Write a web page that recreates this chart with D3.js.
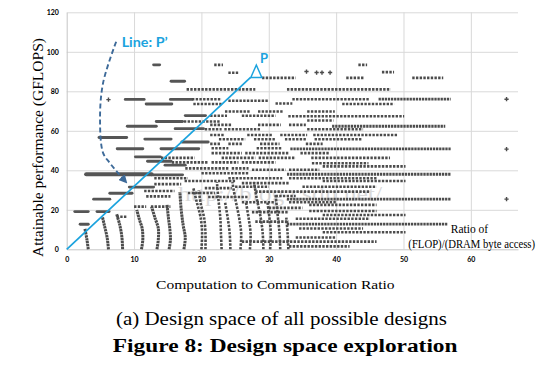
<!DOCTYPE html>
<html><head><meta charset="utf-8">
<script src="https://cdn.jsdelivr.net/npm/d3@7"></script>
<style>body{margin:0;background:#fff}svg{display:block}</style>
</head><body><svg id="c" width="547" height="368"></svg>
<script>
// ---------------- data ----------------
const xTicks = [0, 10, 20, 30, 40, 50, 60];
const yTicks = [0, 20, 40, 60, 80, 100, 120];
const xMax = 67, yMax = 120;

// solid (heavily overlapping) rows of design points: [y, xStart, xEnd]
const solidRows = [
  [93.4, 12.9, 13.8], [85.1, 15.5, 17.5], [75.9, 8.7, 11.5], [75.9, 15.4, 18.6],
  [73.6, 11.8, 15.6], [67.7, 17.6, 20.6], [64.7, 13.3, 17.2], [62.3, 9.0, 13.3],
  [61.1, 16.1, 20.3], [56.6, 4.8, 8.9], [55.8, 11.6, 15.5], [54.3, 17.1, 21.0],
  [50.9, 7.5, 11.3], [50.9, 14.0, 19.6], [46.8, 10.2, 13.9], [44.6, 12.0, 15.5],
  [42.6, 14.6, 17.6], [37.7, 12.6, 17.2], [31.5, 9.3, 12.9], [28.4, 6.4, 9.7],
  [25.4, 4.0, 6.4], [19.1, 1.2, 3.2], [19.1, 4.5, 6.3], [12.7, 2.0, 3.2]
];
// the heaviest row
const heavyRows = [[38.0, 2.9, 12.6]];
// long bandwidth-bound rows on the right
const tightRows = [
  [76.0, 46.3, 57.0], [62.3, 39.4, 56.2], [50.8, 33.2, 57.0],
  [38.0, 32.7, 57.0], [25.4, 32.7, 57.0], [12.7, 32.7, 56.5]
];
// spaced rows of points: [y, xStart, xEnd]
const dotRows = [
  [93.4, 21.9, 23.2], [93.4, 43.3, 44.6], [89.4, 24.0, 25.6], [89.7, 46.8, 48.6],
  [86.8, 29.0, 34.0], [86.8, 41.5, 44.2], [86.8, 51.3, 55.9], [81.0, 17.8, 28.0],
  [81.0, 32.7, 48.1], [76.0, 18.6, 23.0], [75.2, 24.0, 30.0], [76.0, 33.5, 45.0],
  [73.6, 18.8, 23.0], [73.8, 31.0, 33.5], [73.6, 40.9, 48.6], [69.8, 23.5, 27.2],
  [69.8, 28.4, 32.2], [69.8, 35.7, 39.8], [67.6, 21.3, 23.8], [67.6, 26.0, 31.0],
  [67.4, 32.9, 50.1], [65.2, 35.7, 39.6], [64.7, 17.4, 22.8], [63.0, 21.3, 24.5],
  [63.0, 28.4, 31.8], [63.0, 33.0, 35.5], [60.8, 20.5, 23.0], [60.8, 23.4, 28.7],
  [60.8, 35.7, 44.0], [57.9, 21.3, 23.5], [57.9, 26.8, 30.5], [57.9, 31.7, 35.7],
  [57.9, 36.6, 49.2], [55.7, 22.6, 26.5], [55.7, 27.8, 31.0], [55.7, 32.4, 35.7],
  [55.7, 36.8, 43.8], [53.4, 21.3, 22.8], [53.4, 24.0, 26.0], [53.4, 28.7, 31.6],
  [53.4, 35.5, 38.0], [51.2, 21.5, 24.0], [51.2, 28.2, 32.0], [48.7, 21.5, 26.0],
  [48.7, 26.5, 33.0], [48.7, 34.7, 39.1], [46.3, 14.0, 19.0], [46.3, 23.0, 28.0],
  [46.3, 28.5, 34.0], [46.3, 36.3, 48.0], [44.0, 15.6, 21.0], [44.0, 21.5, 25.5],
  [44.0, 26.0, 31.0], [43.6, 36.4, 44.8], [42.0, 38.0, 50.3], [41.0, 17.6, 24.0],
  [41.0, 24.5, 27.0], [40.3, 27.5, 32.5], [40.3, 33.0, 37.5], [38.5, 20.0, 27.0],
  [36.0, 13.0, 18.0], [36.0, 24.0, 32.0], [36.0, 33.0, 46.0], [34.6, 17.5, 25.0],
  [34.6, 38.0, 50.3], [33.5, 26.0, 33.0], [33.0, 13.0, 17.0], [31.7, 25.0, 30.0],
  [31.7, 35.0, 46.0], [31.0, 20.5, 24.5], [29.5, 11.5, 16.0], [29.2, 28.0, 33.0],
  [29.2, 33.0, 45.0], [28.5, 18.0, 22.0], [27.0, 31.0, 34.0], [26.8, 11.8, 15.4],
  [26.5, 21.0, 27.0], [23.8, 26.0, 31.0], [23.8, 33.0, 40.0], [22.5, 36.0, 46.0],
  [21.6, 10.0, 11.8], [21.6, 12.5, 15.4], [21.0, 30.0, 35.0], [19.4, 36.0, 46.0],
  [18.8, 27.5, 33.0], [17.4, 38.0, 50.3], [16.5, 7.4, 8.9], [15.5, 34.0, 45.0],
  [14.0, 28.0, 33.0], [10.5, 34.5, 44.0], [8.6, 38.0, 50.3], [6.0, 34.0, 40.0],
  [3.9, 26.0, 46.0], [1.5, 33.0, 42.0]
];
// near-vertical chains of points (bottom to top): [[x, y], ...]
const denseColumns = [
  [[3.2, 0], [3.0, 5], [2.7, 10.5]],
  [[6.2, 0], [6.0, 6], [5.6, 12], [5.3, 16.5]],
  [[8.3, 0], [8.2, 6], [7.9, 12], [7.4, 18]],
  [[11.1, 0], [11.3, 5], [11.2, 10.6], [10.8, 15], [10.4, 20]],
  [[13.4, 0], [13.6, 5], [13.6, 10.6], [13.1, 16], [12.6, 21.6]],
  [[15.2, 0], [15.4, 5], [15.3, 10.6], [15.1, 16], [14.9, 22.5]],
  [[17.4, 0], [17.6, 6], [17.3, 12], [17.0, 20], [16.8, 29]]
];
const columns = [
  [[20.0, 0], [20.1, 8], [19.9, 15.7], [19.3, 24], [18.8, 31]],
  [[20.6, 0], [20.6, 8], [20.4, 16], [19.9, 23], [19.6, 30]],
  [[23.0, 0], [22.9, 8], [22.8, 16], [22.5, 26], [22.3, 34]],
  [[24.3, 0], [24.2, 8], [23.9, 16], [23.5, 24]],
  [[25.8, 0], [25.9, 8], [25.6, 16], [25.0, 26], [24.6, 34]],
  [[27.2, 0], [27.3, 8], [27.0, 16], [26.6, 24]],
  [[29.2, 0], [29.1, 8], [28.8, 16], [28.2, 26], [27.8, 34]],
  [[30.2, 0], [30.3, 8], [30.1, 16], [29.8, 24]],
  [[31.7, 0], [31.6, 8], [31.3, 18], [31.0, 28]],
  [[32.9, 0], [32.8, 8], [32.6, 16]]
];
const singles = [[6.2, 75.8], [65.3, 76.0], [65.3, 50.7], [65.3, 25.4],
  [35.6, 90.0], [37.1, 89.5], [37.9, 89.5], [39.1, 89.5]];

const pointP = [28.15, 89.5];
const lineStart = [0, 0], lineEnd = [27.3, 87.1];
const arrowPath = [[7.34, 105.1], [5.4, 84.2], [4.95, 65.5], [5.4, 48.8], [6.4, 43.7], [7.6, 38.7], [8.66, 34.6]];

// ---------------- drawing ----------------
const svg = d3.select('#c');
const x = d3.scaleLinear().domain([0, xMax]).range([66.7, 518]);
const y = d3.scaleLinear().domain([0, yMax]).range([249.3, 12.3]);
const ink = '#4c4c4c', blue = '#1ba3de';

// gridlines
svg.append('g').attr('transform', `translate(0,${y(0)})`)
  .call(d3.axisBottom(x).tickValues(xTicks.filter(d => d > 0)).tickSize(-(y(0) - y(yMax))).tickFormat(''))
  .call(g => g.select('.domain').remove())
  .selectAll('line').attr('stroke', '#d9d9d9');
svg.append('g').attr('transform', `translate(${x(0)},0)`)
  .call(d3.axisLeft(y).tickValues(yTicks.filter(d => d > 0)).tickSize(-(x(xMax) - x(0))).tickFormat(''))
  .call(g => g.select('.domain').remove())
  .selectAll('line').attr('stroke', '#d9d9d9');

// axes with labels
const xa = svg.append('g').attr('transform', `translate(0,${y(0)})`)
  .call(d3.axisBottom(x).tickValues(xTicks).tickSize(0).tickPadding(7.6));
xa.select('.domain').attr('stroke', '#c6c6c6');
xa.selectAll('text').attr('font-family', 'Lato, "Open Sans", sans-serif').attr('font-weight', 700).attr('font-size', 7).attr('fill', '#000');
const ya = svg.append('g').attr('transform', `translate(${x(0)},0)`)
  .call(d3.axisLeft(y).tickValues(yTicks).tickSize(0).tickPadding(7.8));
ya.select('.domain').attr('stroke', '#c6c6c6');
ya.selectAll('text').attr('font-family', 'Lato, "Open Sans", sans-serif').attr('font-weight', 700).attr('font-size', 7).attr('fill', '#000');

// watermark (behind the points)
svg.append('text').attr('x', 178).attr('y', 201)
  .attr('font-family', '"Liberation Serif", serif').attr('font-size', 21)
  .attr('textLength', 204).attr('lengthAdjust', 'spacingAndGlyphs')
  .attr('fill', '#c4c4c4').attr('opacity', 0.6).text('http://blog.csdn.net/');

const plot = svg.append('g');
const rowPath = r => `M${x(r[1])},${y(r[0])}H${x(r[2])}`;
plot.selectAll('.solid').data(solidRows).join('path').attr('d', rowPath)
  .attr('stroke', '#555').attr('stroke-width', 2.9).attr('stroke-linecap', 'round').attr('fill', 'none');
plot.selectAll('.heavy').data(heavyRows).join('path').attr('d', rowPath)
  .attr('stroke', '#555').attr('stroke-width', 4.2).attr('stroke-linecap', 'round').attr('fill', 'none');
plot.selectAll('.tight').data(tightRows).join('path').attr('d', rowPath)
  .attr('stroke', ink).attr('stroke-width', 2.8).attr('stroke-dasharray', '2.3,0.8').attr('fill', 'none');
plot.selectAll('.dots').data(dotRows).join('path').attr('d', rowPath)
  .attr('stroke', ink).attr('stroke-width', 2.6).attr('stroke-dasharray', '2.4,1.3').attr('fill', 'none');

const colLine = d3.line().x(d => x(d[0])).y(d => y(d[1])).curve(d3.curveCatmullRom);
plot.selectAll('.dcol').data(denseColumns).join('path').attr('d', colLine)
  .attr('stroke', ink).attr('stroke-width', 3).attr('stroke-dasharray', '2.4,0.6').attr('fill', 'none');
plot.selectAll('.col').data(columns).join('path').attr('d', colLine)
  .attr('stroke', ink).attr('stroke-width', 2.6).attr('stroke-dasharray', '2.4,1.3').attr('fill', 'none');
plot.selectAll('.single').data(singles).join('path')
  .attr('d', d3.symbol(d3.symbolCross, 10))
  .attr('transform', d => `translate(${x(d[0])},${y(d[1])})`).attr('fill', ink);

// roofline through P
svg.append('line').attr('x1', x(lineStart[0])).attr('y1', y(lineStart[1]))
  .attr('x2', x(lineEnd[0])).attr('y2', y(lineEnd[1]))
  .attr('stroke', blue).attr('stroke-width', 1.7);
const px = x(pointP[0]), py = y(pointP[1]);
svg.append('path').attr('d', `M${px},${py - 7.5}L${px + 5.5},${py + 5}L${px - 5.5},${py + 5}Z`)
  .attr('fill', 'none').attr('stroke', blue).attr('stroke-width', 1.5);
svg.append('text').attr('x', x(29.3)).attr('y', y(94.3)).attr('text-anchor', 'middle')
  .attr('font-family', 'Lato, "Open Sans", sans-serif').attr('font-weight', 700).attr('font-size', 13)
  .attr('fill', blue).text('P');
svg.append('text').attr('x', x(8.16)).attr('y', y(102.2))
  .attr('font-family', 'Lato, "Open Sans", sans-serif').attr('font-weight', 700).attr('font-size', 13)
  .attr('textLength', 46).attr('lengthAdjust', 'spacingAndGlyphs')
  .attr('fill', blue).text('Line: P\u2019');

// dashed arrow
const defs = svg.append('defs');
defs.append('marker').attr('id', 'ah').attr('viewBox', '0 0 10 10').attr('refX', 6).attr('refY', 5)
  .attr('markerWidth', 4.5).attr('markerHeight', 4.5).attr('orient', 'auto')
  .append('path').attr('d', 'M0,0L10,5L0,10Z').attr('fill', '#3d6a99');
svg.append('path').attr('d', d3.line().x(d => x(d[0])).y(d => y(d[1])).curve(d3.curveCatmullRom)(arrowPath))
  .attr('fill', 'none').attr('stroke', '#3d6a99').attr('stroke-width', 1.9)
  .attr('stroke-dasharray', '5,3').attr('marker-end', 'url(#ah)');

// axis titles and notes
const serif = '"Liberation Serif", "Times New Roman", serif';
svg.append('text').attr('transform', 'translate(43,147.5) rotate(-90)').attr('text-anchor', 'middle')
  .attr('font-family', serif).attr('font-size', 15).attr('textLength', 219).attr('lengthAdjust', 'spacingAndGlyphs')
  .text('Attainable performance (GFLOPS)');
svg.append('text').attr('x', 275.3).attr('y', 288.5).attr('text-anchor', 'middle')
  .attr('font-family', serif).attr('font-size', 13.5).attr('textLength', 238.5).attr('lengthAdjust', 'spacingAndGlyphs')
  .text('Computation to Communication Ratio');
svg.append('text').attr('x', 469.5).attr('y', 232.5).attr('text-anchor', 'middle')
  .attr('font-family', serif).attr('font-size', 11.5).text('Ratio of');
svg.append('text').attr('x', 471.7).attr('y', 247.5).attr('text-anchor', 'middle')
  .attr('font-family', serif).attr('font-size', 11.5).attr('textLength', 126.7).attr('lengthAdjust', 'spacingAndGlyphs')
  .text('(FLOP)/(DRAM byte access)');
svg.append('text').attr('x', 281.4).attr('y', 324.5).attr('text-anchor', 'middle')
  .attr('font-family', serif).attr('font-size', 18.5).attr('textLength', 331).attr('lengthAdjust', 'spacingAndGlyphs')
  .text('(a) Design space of all possible designs');
svg.append('text').attr('x', 285.2).attr('y', 352).attr('text-anchor', 'middle')
  .attr('font-family', serif).attr('font-weight', 700).attr('font-size', 18.5).attr('textLength', 344.7).attr('lengthAdjust', 'spacingAndGlyphs')
  .text('Figure 8: Design space exploration');
</script></body></html>
